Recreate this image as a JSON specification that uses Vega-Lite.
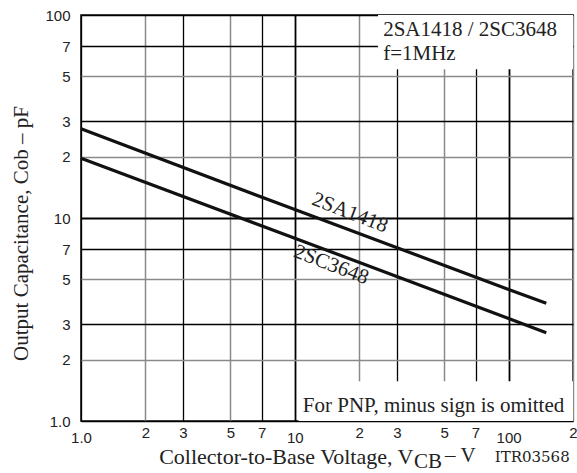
{
  "$schema": "https://vega.github.io/schema/vega-lite/v6.json",
  "autosize": {"type": "none"},
  "width": 492,
  "height": 406,
  "padding": {"left": 81, "top": 15, "right": 4, "bottom": 52},
  "background": "white",
  "title": {"text": "Cob – VCB", "font": "Liberation Sans", "fontSize": 24, "fontWeight": "normal", "baseline": "alphabetic", "offset": 10, "anchor": "middle", "color": "#222"},
  "config": {"view": {"stroke": "#111", "strokeWidth": 1.6}},
  "datasets": {
    "curves": [
      {"part": "2SA1418", "volt": 1, "pf": 27.5},
      {"part": "2SA1418", "volt": 10, "pf": 11.0},
      {"part": "2SA1418", "volt": 100, "pf": 4.45},
      {"part": "2SA1418", "volt": 150, "pf": 3.8},
      {"part": "2SC3648", "volt": 1, "pf": 19.7},
      {"part": "2SC3648", "volt": 10, "pf": 7.95},
      {"part": "2SC3648", "volt": 100, "pf": 3.2},
      {"part": "2SC3648", "volt": 150, "pf": 2.72}
    ],
    "boxes": [
      {"volt": 24.5, "volt2": 200, "pf": 54, "pf2": 100},
      {"volt": 10.4, "volt2": 200, "pf": 1, "pf2": 1.57}
    ],
    "curveLabels": [
      {"label": "2SA1418", "volt": 18.1, "pf": 10.6},
      {"label": "2SC3648", "volt": 14.8, "pf": 5.87}
    ],
    "notes": [
      {"label": "2SA1418 / 2SC3648", "volt": 25.9, "pf": 78.8},
      {"label": "f=1MHz", "volt": 25.9, "pf": 60},
      {"label": "For PNP, minus sign is omitted", "volt": 10.9, "pf": 1.105},
      {"label": "–  V", "volt": 50.4, "pf": 0.628}
    ],
    "subscript": [
      {"label": "CB", "volt": 36.1, "pf": 0.587}
    ],
    "code": [
      {"label": "ITR03568", "volt": 193, "pf": 0.628}
    ]
  },
  "encoding": {
    "x": {
      "field": "volt", "type": "quantitative",
      "scale": {"type": "log", "domain": [1, 200], "nice": false, "zero": false},
      "axis": {
        "values": [1, 2, 3, 5, 7, 10, 20, 30, 50, 70, 100, 200],
        "labelExpr": "datum.value == 1 ? '1.0' : (datum.value == 10 || datum.value == 100) ? toString(datum.value) : slice(toString(datum.value), 0, 1)",
        "grid": true,
        "gridColor": {"condition": {"test": "indexof([2,5,20,50,200], datum.value) >= 0", "value": "#8a8a8a"}, "value": "#000"},
        "gridWidth": {"condition": [{"test": "datum.value == 10 || datum.value == 100", "value": 1.8}, {"test": "indexof([2,5,20,50,200], datum.value) >= 0", "value": 1.5}], "value": 1.3},
        "gridOpacity": 1,
        "domain": false, "ticks": false,
        "labelFlush": false, "labelOverlap": false,
        "labelFont": "Liberation Sans", "labelFontSize": 15, "labelColor": "#222",
        "labelBaseline": "top",
        "labelPadding": {"condition": {"test": "datum.value == 1 || datum.value == 10 || datum.value == 100", "value": 9}, "value": 4},
        "title": "Collector-to-Base Voltage, V",
        "titleFont": "Liberation Serif", "titleFontSize": 22, "titleFontWeight": "normal", "titleColor": "#222",
        "titleAlign": "right", "titleBaseline": "alphabetic",
        "titleX": 332, "titleY": 42
      }
    },
    "y": {
      "field": "pf", "type": "quantitative",
      "scale": {"type": "log", "domain": [1, 100], "nice": false, "zero": false},
      "axis": {
        "values": [1, 2, 3, 5, 7, 10, 20, 30, 50, 70, 100],
        "labelExpr": "datum.value == 1 ? '1.0' : (datum.value == 10 || datum.value == 100) ? toString(datum.value) : slice(toString(datum.value), 0, 1)",
        "grid": true,
        "gridColor": {"condition": {"test": "indexof([2,5,20,50], datum.value) >= 0", "value": "#8a8a8a"}, "value": "#000"},
        "gridWidth": {"condition": [{"test": "datum.value == 10", "value": 1.8}, {"test": "indexof([2,5,20,50], datum.value) >= 0", "value": 1.5}], "value": 1.3},
        "gridOpacity": 1,
        "domain": false, "ticks": false,
        "labelFlush": false, "labelOverlap": false,
        "labelFont": "Liberation Sans", "labelFontSize": 15, "labelColor": "#222",
        "labelPadding": 11,
        "title": "Output Capacitance, Cob  –  pF",
        "titleFont": "Liberation Serif", "titleFontSize": 21, "titleFontWeight": "normal", "titleColor": "#222",
        "titleAnchor": "middle", "titleBaseline": "alphabetic", "titleAngle": -90,
        "titleX": -54, "titleY": 218
      }
    }
  },
  "layer": [
    {
      "data": {"name": "boxes"},
      "mark": {"type": "rect", "fill": "white", "stroke": null},
      "encoding": {"x2": {"field": "volt2"}, "y2": {"field": "pf2"}}
    },
    {
      "data": {"name": "curves"},
      "mark": {"type": "line", "stroke": "#111", "strokeWidth": 3.2, "strokeCap": "butt"},
      "encoding": {"detail": {"field": "part", "type": "nominal"}}
    },
    {
      "data": {"name": "curveLabels"},
      "mark": {"type": "text", "angle": 21, "font": "Liberation Serif", "fontSize": 21, "align": "center", "baseline": "middle", "color": "#222"},
      "encoding": {"text": {"field": "label"}}
    },
    {
      "data": {"name": "notes"},
      "mark": {"type": "text", "font": "Liberation Serif", "fontSize": 21, "align": "left", "baseline": "alphabetic", "color": "#222"},
      "encoding": {"text": {"field": "label"}}
    },
    {
      "data": {"name": "subscript"},
      "mark": {"type": "text", "font": "Liberation Serif", "fontSize": 21, "align": "left", "baseline": "alphabetic", "color": "#222"},
      "encoding": {"text": {"field": "label"}}
    },
    {
      "data": {"name": "code"},
      "mark": {"type": "text", "font": "DejaVu Serif", "fontSize": 15, "align": "right", "baseline": "alphabetic", "color": "#222"},
      "encoding": {"text": {"field": "label"}}
    }
  ]
}
